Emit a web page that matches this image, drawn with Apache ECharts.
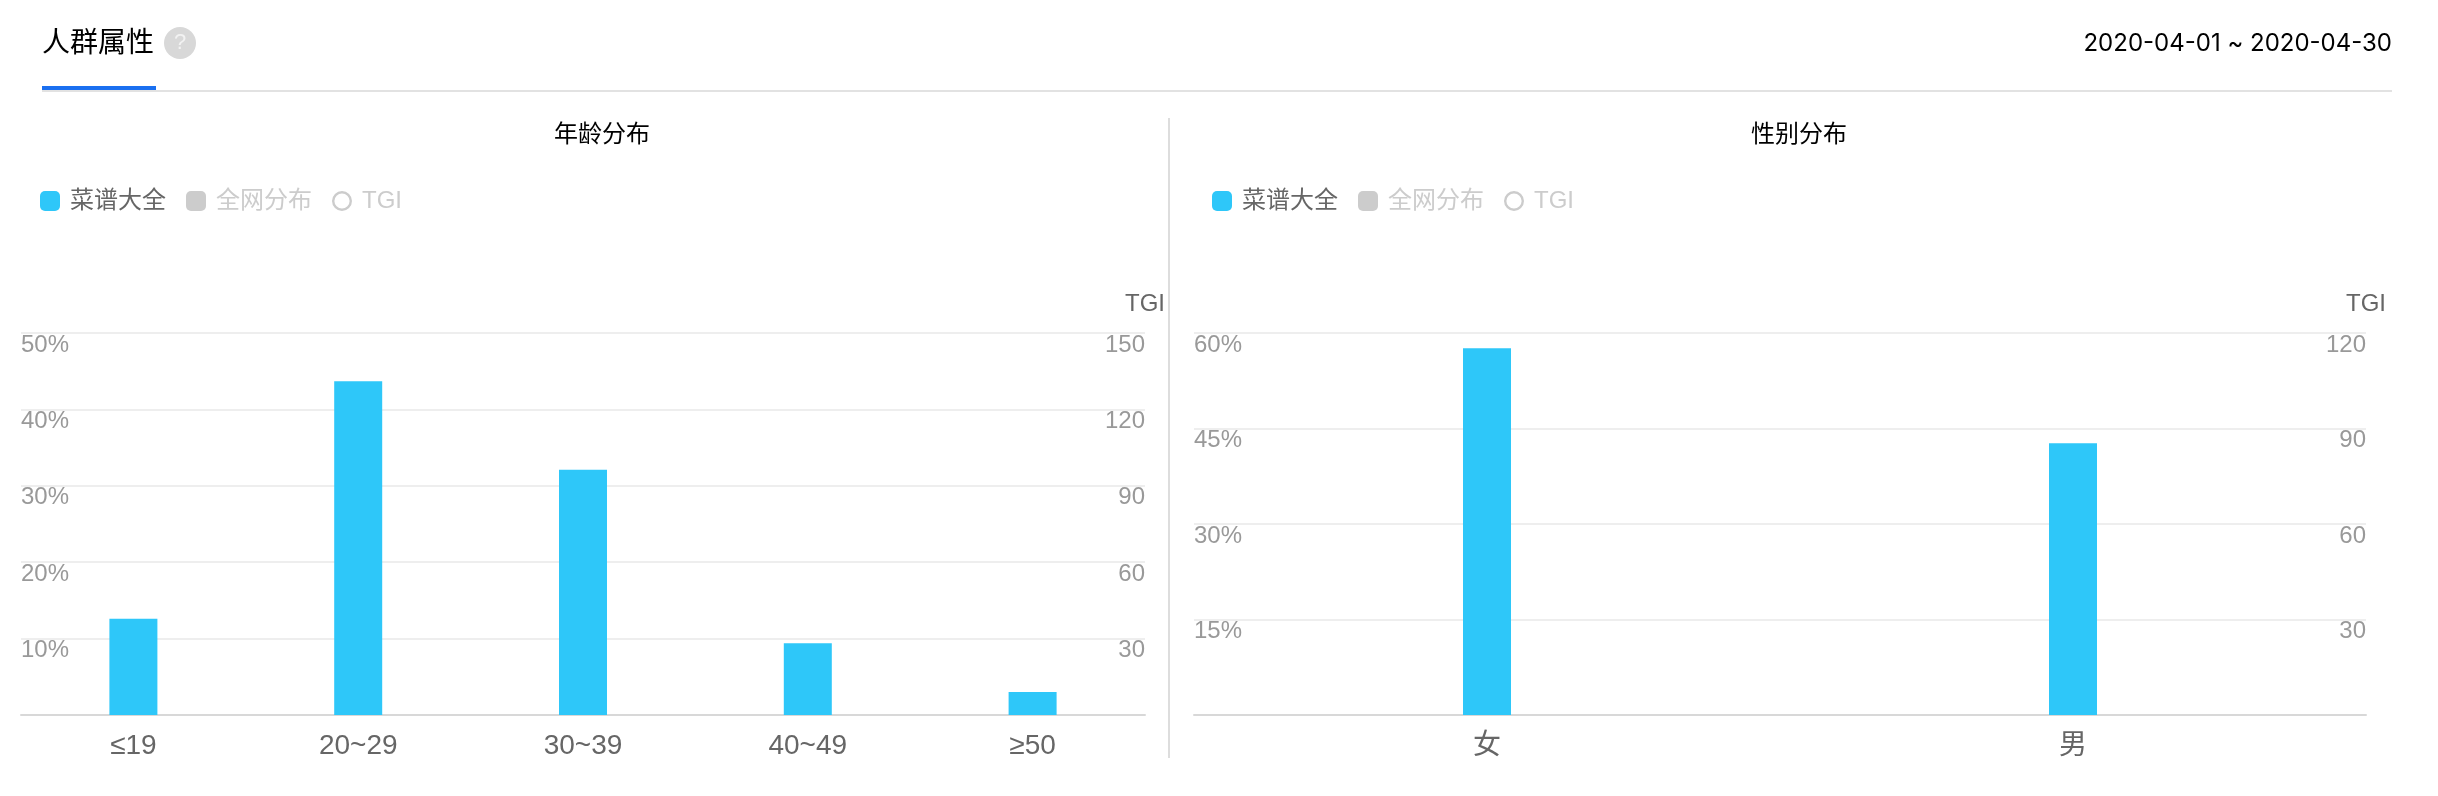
<!DOCTYPE html>
<html lang="zh">
<head>
<meta charset="utf-8">
<title>人群属性</title>
<script src="https://cdn.jsdelivr.net/npm/echarts@6/dist/echarts.min.js"></script>
<style>
html,body{margin:0;padding:0;background:#fff;}
#chart{width:2438px;height:796px;}
</style>
</head>
<body>
<div id="chart"></div>
<script>
const ageCategories = ['≤19', '20~29', '30~39', '40~49', '≥50'];
const ageShare = [12.6, 43.7, 32.1, 9.4, 3.0];
const genderCategories = ['女', '男'];
const genderShare = [57.6, 42.7];
const seriesNames = ['菜谱大全', '全网分布', 'TGI'];
const ageAxisMax = 50, ageAxisStep = 10, ageTgiMax = 150, ageTgiStep = 30;
const genderAxisMax = 60, genderAxisStep = 15, genderTgiMax = 120, genderTgiStep = 30;

const FONT = '"Liberation Sans","Noto Sans CJK SC",sans-serif';
const BLUE = '#2ec7f9';
const ringIcon = 'path://M10 0A10 10 0 1 1 10 20A10 10 0 1 1 10 0ZM10 2.4A7.6 7.6 0 1 0 10 17.6A7.6 7.6 0 1 0 10 2.4Z';

function legendFor(left) {
  return {
    left: left, top: 189, padding: 0, itemWidth: 20, itemHeight: 20, itemGap: 20, orient: 'horizontal',
    inactiveColor: '#ccc', inactiveBorderWidth: 0,
    textStyle: { fontSize: 24, fontFamily: FONT, color: '#666', padding: [0, 0, 0, 5] },
    data: [
      { name: seriesNames[0], icon: 'roundRect' },
      { name: seriesNames[1], icon: 'roundRect' },
      { name: seriesNames[2], icon: ringIcon }
    ],
    selected: { [seriesNames[1]]: false, [seriesNames[2]]: false }
  };
}
function xAxisFor(gridIndex, cats) {
  return {
    type: 'category', gridIndex, data: cats,
    axisTick: { show: false },
    axisLine: { show: true, lineStyle: { color: '#d8d8d8', width: 2 } },
    axisLabel: { color: '#666', fontSize: 28, fontFamily: FONT, margin: 17 }
  };
}
function yAxisFor(gridIndex, max, step, isPct, isRight) {
  const a = {
    type: 'value', gridIndex, min: 0, max, interval: step,
    position: isRight ? 'right' : 'left',
    axisLine: { show: false }, axisTick: { show: false },
    splitLine: { show: !isRight, lineStyle: { color: '#eee', width: 2 } },
    axisLabel: {
      inside: true, margin: 0, verticalAlign: 'top', showMinLabel: false,
      color: '#999', fontSize: 24, fontFamily: FONT,
      formatter: isPct ? '{value}%' : '{value}'
    }
  };
  if (isRight) {
    a.name = 'TGI';
    a.nameLocation = 'end';
    a.nameGap = 29;
    a.nameTextStyle = { color: '#666', fontSize: 24, fontFamily: FONT, align: 'right', verticalAlign: 'middle', padding: [0, -20, 0, 0] };
  }
  return a;
}
function seriesFor(x, yLeft, yRight, data) {
  return [
    { name: seriesNames[0], type: 'bar', xAxisIndex: x, yAxisIndex: yLeft, barWidth: 48, itemStyle: { color: BLUE }, data },
    { name: seriesNames[1], type: 'bar', xAxisIndex: x, yAxisIndex: yLeft, barWidth: 48, itemStyle: { color: '#ccc' }, data: [] },
    { name: seriesNames[2], type: 'line', xAxisIndex: x, yAxisIndex: yRight, symbol: 'emptyCircle', itemStyle: { color: '#ccc' }, data: [] }
  ];
}

const chart = echarts.init(document.getElementById('chart'), null, { renderer: 'canvas' });
chart.setOption({
  animation: false,
  backgroundColor: '#fff',
  textStyle: { fontFamily: FONT },
  title: [
    { text: '人群属性', left: 42, top: 30, padding: 0, textStyle: { fontSize: 28, fontWeight: 'normal', color: '#000', fontFamily: FONT } },
    { text: '2020-04-01 ~ 2020-04-30', right: 46, top: 32, padding: 0, textStyle: { fontSize: 24, fontWeight: 'normal', color: '#000', fontFamily: 'Inter,"Liberation Sans",sans-serif' } },
    { text: '年龄分布', left: 602, top: 123, padding: 0, textAlign: 'center', textStyle: { fontSize: 24, fontWeight: 'normal', color: '#000', fontFamily: FONT } },
    { text: '性别分布', left: 1799, top: 123, padding: 0, textAlign: 'center', textStyle: { fontSize: 24, fontWeight: 'normal', color: '#000', fontFamily: FONT } }
  ],
  legend: [legendFor(40), legendFor(1212)],
  grid: [
    { left: 21, width: 1124, top: 333, height: 382 },
    { left: 1194, width: 1172, top: 333, height: 382 }
  ],
  xAxis: [xAxisFor(0, ageCategories), xAxisFor(1, genderCategories)],
  yAxis: [
    yAxisFor(0, ageAxisMax, ageAxisStep, true, false),
    yAxisFor(0, ageTgiMax, ageTgiStep, false, true),
    yAxisFor(1, genderAxisMax, genderAxisStep, true, false),
    yAxisFor(1, genderTgiMax, genderTgiStep, false, true)
  ],
  series: [
    ...seriesFor(0, 0, 1, ageShare),
    ...seriesFor(1, 2, 3, genderShare)
  ],
  graphic: [
    { type: 'rect', silent: true, shape: { x: 42, y: 90, width: 2350, height: 2 }, style: { fill: '#e2e2e2' } },
    { type: 'rect', silent: true, shape: { x: 42, y: 86, width: 114, height: 4 }, style: { fill: '#1a6ff0' } },
    { type: 'rect', silent: true, shape: { x: 1168, y: 118, width: 2, height: 640 }, style: { fill: '#dddddd' } },
    { type: 'circle', silent: true, shape: { cx: 180, cy: 43, r: 16 }, style: { fill: '#d8d8d8' } },
    { type: 'text', silent: true, x: 180, y: 43, style: { text: '?', fill: '#f2f2f2', font: '22px "Liberation Sans"', align: 'center', verticalAlign: 'middle' } }
  ]
});
</script>
</body>
</html>
